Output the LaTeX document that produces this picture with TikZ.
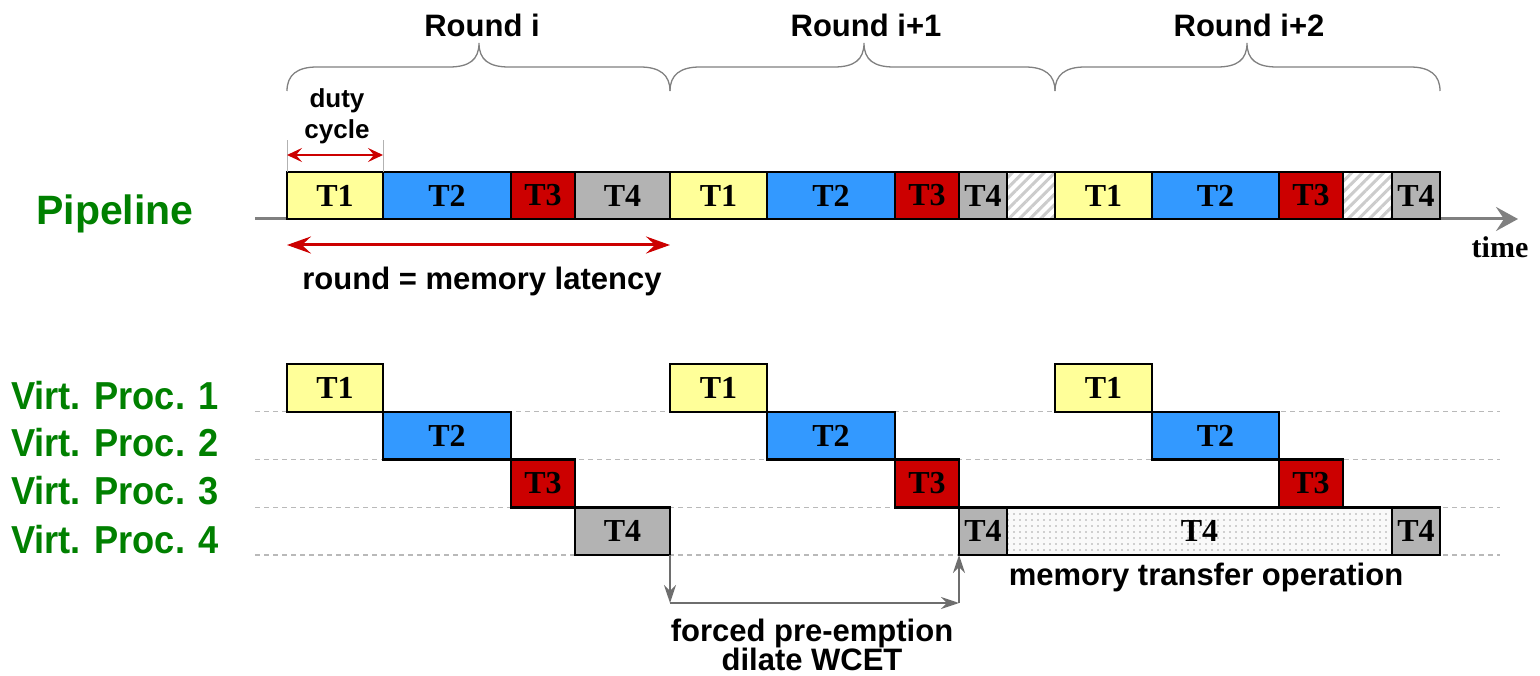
\documentclass[tikz,border=0pt]{standalone}
\usepackage{fontspec}
\usepackage{graphicx}
\setmainfont{Liberation Serif}
\setsansfont{Liberation Sans}
\usetikzlibrary{arrows.meta,patterns.meta,calc,backgrounds}
\definecolor{cyel}{HTML}{FFFF99}
\definecolor{cblu}{HTML}{3399FF}
\definecolor{cred}{HTML}{CC0000}
\definecolor{cgry}{HTML}{B3B3B3}
\definecolor{cgrn}{HTML}{008000}
\definecolor{carr}{HTML}{CC0000}
\definecolor{caxis}{HTML}{808080}
\definecolor{cdark}{HTML}{6E6E6E}
\newcommand\vpname[1]{\scalebox{0.93}[1]{#1}}
\begin{document}
\begin{tikzpicture}[x=1pt,y=-1pt,
  tbox/.style={draw=black,line width=2.5pt,minimum height=47pt,inner sep=0pt,outer sep=0pt,
    font=\fontsize{32}{32}\selectfont\bfseries},
  rbox/.style={tbox,minimum height=47.75pt},
  hatchbox/.style={preaction={fill=white},pattern={Lines[angle=45,distance=7.5pt,line width=3pt]},pattern color=gray!40},
  dotbox/.style={preaction={fill=gray!5},pattern={Dots[distance=6pt,radius=0.8pt]},pattern color=gray!70},
  sflab/.style={font=\sffamily\bfseries\fontsize{31}{29}\selectfont,align=center,inner sep=0pt},
  vplab/.style={font=\sffamily\bfseries\fontsize{39}{39}\selectfont,text=cgrn,inner sep=0pt},
  bracestyle/.style={draw=caxis,line width=1.3pt},
  redarrow/.style={draw=carr,line width=3pt,{Stealth[length=24pt,width=17pt,inset=9pt]}-{Stealth[length=24pt,width=17pt,inset=9pt]}},
  redarrowsm/.style={draw=carr,line width=2pt,{Stealth[length=15pt,width=14pt,inset=6pt]}-{Stealth[length=15pt,width=14pt,inset=6pt]}},
  guide/.style={draw=gray!60,line width=1pt},
  axis/.style={draw=caxis,line width=3pt,-{Stealth[length=22pt,width=24pt,inset=8pt]}},
  dline/.style={draw=gray!55,line width=1.2pt,dash pattern=on 5pt off 4pt},
  garrow/.style={draw=cdark,line width=2.5pt,-{Stealth[length=18pt,width=12pt,inset=6pt]}}
]
\useasboundingbox (0,0) rectangle (1540,676);

% ---------- pipeline ----------
\node[tbox,fill=cyel,minimum width=96pt]  (p1)  at (335,195.5)    {T1};
\node[tbox,fill=cblu,minimum width=128pt] (p2)  at (447,195.5)    {T2};
\node[tbox,fill=cred,minimum width=64pt]  (p3)  at (543,195.5)    {T3};
\node[tbox,fill=cgry,minimum width=95pt]  (p4)  at (622.5,195.5)  {T4};
\node[tbox,fill=cyel,minimum width=97pt]  (p5)  at (718.5,195.5)  {T1};
\node[tbox,fill=cblu,minimum width=128pt] (p6)  at (831,195.5)    {T2};
\node[tbox,fill=cred,minimum width=64pt]  (p7)  at (927,195.5)    {T3};
\node[tbox,fill=cgry,minimum width=48pt]  (p8)  at (983,195.5)    {T4};
\node[tbox,hatchbox,minimum width=48pt]   (p9)  at (1031,195.5)   {};
\node[tbox,fill=cyel,minimum width=97pt]  (p10) at (1103.5,195.5) {T1};
\node[tbox,fill=cblu,minimum width=127pt] (p11) at (1215.5,195.5) {T2};
\node[tbox,fill=cred,minimum width=64pt]  (p12) at (1311,195.5)   {T3};
\node[tbox,hatchbox,minimum width=49pt]   (p13) at (1367.5,195.5) {};
\node[tbox,fill=cgry,minimum width=48pt]  (p14) at (1416,195.5)   {T4};

\coordinate (xl) at (255,0);
\coordinate (xr) at (1500,0);
\coordinate (tend) at (1518,0);

\begin{scope}[on background layer]
  \draw[axis] (xl |- p1.south) -- (tend |- p1.south);
\end{scope}
\node[font=\fontsize{30}{30}\selectfont\bfseries,inner sep=0pt] (time) at (1500,247) {time};

\node[vplab,font=\sffamily\bfseries\fontsize{41}{41}\selectfont] (pipe) at (115,214) {Pipeline};

% braces
\node[sflab] (r1) at (482,25) {Round i};
\node[sflab] (r2) at (866,25) {Round i+1};
\node[sflab] (r3) at (1249,25) {Round i+2};
\newcommand\roundbrace[3]{%
  \draw[bracestyle] (#1,91) .. controls (#1,75) and (#1+10,67) .. (#1+30,67)
    -- (#2-30,67) .. controls (#2-10,67) and (#2,60) .. (#2,43)
    .. controls (#2,60) and (#2+10,67) .. (#2+30,67)
    -- (#3-30,67) .. controls (#3-10,67) and (#3,75) .. (#3,91);}
\roundbrace{287}{479}{670}
\roundbrace{670}{864}{1055}
\roundbrace{1055}{1247}{1440}

% duty cycle
\draw[guide] (p1.north west) -- ([yshift=32pt]p1.north west);
\draw[guide] (p1.north east) -- ([yshift=32pt]p1.north east);
\draw[redarrowsm] ([yshift=17pt]p1.north west) -- ([yshift=17pt]p1.north east);
\node[sflab,font=\sffamily\bfseries\fontsize{26}{31}\selectfont] (duty) at (337,116) {duty\\cycle};

% round
\draw[redarrow] ([yshift=-26pt]p1.south west) -- ([yshift=-26pt]p4.south east);
\node[sflab] (rml) at (482,281) {round = memory latency};

% ---------- virtual processors ----------
\node[rbox,fill=cyel,minimum width=96pt]  (v1a) at (335,387.875)    {T1};
\node[rbox,fill=cyel,minimum width=97pt]  (v1b) at (718.5,387.875)  {T1};
\node[rbox,fill=cyel,minimum width=97pt]  (v1c) at (1103.5,387.875) {T1};
\node[rbox,fill=cblu,minimum width=128pt] (v2a) at (447,435.625)    {T2};
\node[rbox,fill=cblu,minimum width=128pt] (v2b) at (831,435.625)    {T2};
\node[rbox,fill=cblu,minimum width=127pt] (v2c) at (1215.5,435.625) {T2};
\node[rbox,fill=cred,minimum width=64pt]  (v3a) at (543,483.375)    {T3};
\node[rbox,fill=cred,minimum width=64pt]  (v3b) at (927,483.375)    {T3};
\node[rbox,fill=cred,minimum width=64pt]  (v3c) at (1311,483.375)   {T3};
\node[rbox,fill=cgry,minimum width=95pt]  (v4a) at (622.5,531.125)  {T4};
\node[rbox,fill=cgry,minimum width=48pt]  (v4b) at (983,531.125)    {T4};
\node[rbox,dotbox,minimum width=385pt]    (v4c) at (1199.5,531.125) {T4};
\node[rbox,fill=cgry,minimum width=48pt]  (v4d) at (1416,531.125)   {T4};

\begin{scope}[on background layer]
  \draw[dline] (xl |- v1a.south) -- (xr |- v1a.south);
  \draw[dline] (xl |- v2a.south) -- (xr |- v2a.south);
  \draw[dline] (xl |- v3a.south) -- (xr |- v3a.south);
  \draw[dline] (xl |- v4a.south) -- (xr |- v4a.south);
\end{scope}

\node[vplab] (vp1) at (115,396) {\vpname{Virt. Proc. 1}};
\node[vplab] (vp2) at (115,443) {\vpname{Virt. Proc. 2}};
\node[vplab] (vp3) at (115,491) {\vpname{Virt. Proc. 3}};
\node[vplab] (vp4) at (115,540) {\vpname{Virt. Proc. 4}};

% pre-emption arrows
\coordinate (fpL) at ($(v4a.south east)+(0,48)$);
\coordinate (fpR) at (v4b.south west |- fpL);
\draw[garrow] (v4a.south east) -- (fpL);
\draw[garrow] (fpL) -- (fpR);
\draw[garrow] (fpR) -- (v4b.south west);

\node[sflab] (mto) at (1206,577) {memory transfer operation};
\node[sflab] (fpe) at (812,645) {forced pre-emption\\dilate WCET};
\end{tikzpicture}
\end{document}
